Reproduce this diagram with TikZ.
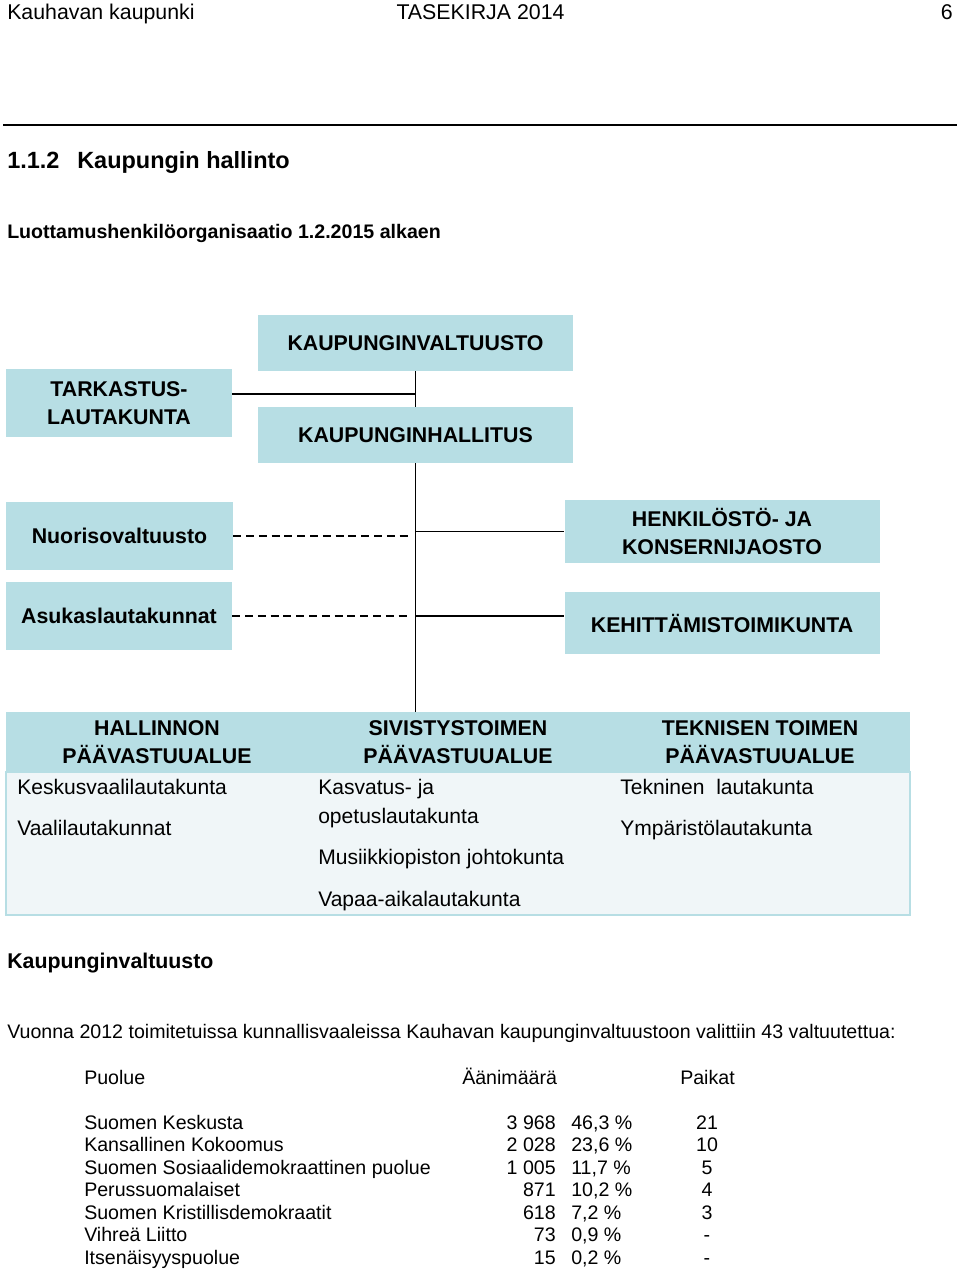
\documentclass[tikz,border=0pt]{standalone}
\usepackage{fontspec}
\setmainfont{Liberation Sans}
\usetikzlibrary{positioning,calc}
\definecolor{boxblue}{RGB}{183,222,228}
\definecolor{cellblue}{RGB}{240,246,248}

\begin{document}
\begin{tikzpicture}[
    x=0.75pt, y=-0.75pt,
    orgbox/.style={fill=boxblue, align=center, inner sep=0pt, font=\fontsize{16}{21.5}\selectfont\bfseries},
    hdr/.style={align=center, inner sep=0pt, font=\fontsize{16}{21.5}\selectfont\bfseries},
    cell/.style={anchor=base west, inner sep=0pt, font=\fontsize{15.8}{19}\selectfont},
    txt/.style={anchor=base west, inner sep=0pt, font=\fontsize{14.7}{17}\selectfont},
    link/.style={line width=1.3pt},
    dashlink/.style={line width=1.3pt, dash pattern=on 6pt off 3.6pt}
]
    \useasboundingbox (0,0) rectangle (960,1269);

    % Page header
    \node[txt, font=\fontsize{16}{19}\selectfont] (kaup) at (7,19.5) {Kauhavan kaupunki};
    \node[txt, anchor=base, font=\fontsize{16}{19}\selectfont] (tase) at (480.5,19.5) {TASEKIRJA 2014};
    \node[txt, anchor=base east, font=\fontsize{16}{19}\selectfont] (sivu) at (953,19.5) {6};
    \draw[line width=0.8pt] (3,125) -- (957,125);
    \node[txt, font=\fontsize{17.6}{21}\selectfont\bfseries] (numero) at (7,168.5) {1.1.2};
    \node[txt, font=\fontsize{17.6}{21}\selectfont\bfseries] (otsikko) at (77,168.5) {Kaupungin hallinto};
    \node[txt, font=\fontsize{14.7}{17}\selectfont\bfseries] (alaots) at (7,239) {Luottamushenkilöorganisaatio 1.2.2015 alkaen};

    % Organisation boxes
    \node[orgbox, minimum width=315*0.75pt, minimum height=56*0.75pt] (kv) at (415.5,343) {KAUPUNGINVALTUUSTO};
    \node[orgbox, minimum width=226*0.75pt, minimum height=68*0.75pt] (tl) at (119,403) {TARKASTUS-\\LAUTAKUNTA};
    \node[orgbox, minimum width=315*0.75pt, minimum height=56*0.75pt] (kh) at (415.5,435) {KAUPUNGINHALLITUS};
    \node[orgbox, minimum width=227*0.75pt, minimum height=68*0.75pt] (nuo) at (119.5,536) {Nuorisovaltuusto};
    \node[orgbox, minimum width=315*0.75pt, minimum height=63*0.75pt] (hk) at (722,531.5) {HENKILÖSTÖ- JA\\KONSERNIJAOSTO};
    \node[orgbox, minimum width=226*0.75pt, minimum height=68*0.75pt] (asu) at (119,616) {Asukaslautakunnat};
    \node[orgbox, minimum width=315*0.75pt, minimum height=62*0.75pt] (keh) at (722,623) {KEHITTÄMISTOIMIKUNTA};

    % Responsibility areas
    \node[fill=cellblue, draw=boxblue, line width=0.8pt, inner sep=0pt, minimum width=904*0.75pt, minimum height=143*0.75pt] (runko) at (458,843.5) {};
    \node[fill=boxblue, inner sep=0pt, minimum width=904*0.75pt, minimum height=60*0.75pt] (alueet) at (458,742) {};
    \node[hdr] (hal) at (157,742) {HALLINNON\\PÄÄVASTUUALUE};
    \node[hdr] (siv) at (458,742) {SIVISTYSTOIMEN\\PÄÄVASTUUALUE};
    \node[hdr] (tek) at (760,742) {TEKNISEN TOIMEN\\PÄÄVASTUUALUE};
    \foreach \x/\y/\t [count=\k] in {17/794.5/Keskusvaalilautakunta, 17/835.5/Vaalilautakunnat,
        318/794.5/Kasvatus- ja, 318/823.5/opetuslautakunta, 318/864.5/Musiikkiopiston johtokunta,
        318/906.5/Vapaa-aikalautakunta, 620/794.5/Tekninen\ \ lautakunta, 620/835.5/Ympäristölautakunta}
        \node[cell] (lk\k) at (\x,\y) {\t};

    % Connectors
    \draw[link] (kv.south) -- (kh.north);
    \draw[link] ([yshift=6.75pt]tl.east) -- ([yshift=6.75pt]tl.east -| kv.south);
    \draw[link] (kh.south) -- (kh.south |- alueet.north);
    \draw[dashlink] (nuo.east) -- ([xshift=-4pt]nuo.east -| kh.south);
    \draw[link] (hk.west -| kh.south) -- (hk.west);
    \draw[dashlink] (asu.east) -- ([xshift=-4pt]asu.east -| kh.south);
    \draw[link] (asu.east -| kh.south) -- (asu.east -| keh.west);

    % Election results
    \node[txt, font=\fontsize{16}{19}\selectfont\bfseries] (kvots) at (7,968.5) {Kaupunginvaltuusto};
    \node[txt] (vuonna) at (7,1038) {Vuonna 2012 toimitetuissa kunnallisvaaleissa Kauhavan kaupunginvaltuustoon valittiin 43 valtuutettua:};
    \node[txt] (puolue) at (84,1084) {Puolue};
    \node[txt] (aanet) at (462,1084) {Äänimäärä};
    \node[txt] (paikat) at (680,1084) {Paikat};
    \foreach \nimi/\luku/\pros/\pk [count=\i from 0] in {
        Suomen Keskusta/3 968/46{,}3/21, Kansallinen Kokoomus/2 028/23{,}6/10,
        Suomen Sosiaalidemokraattinen puolue/1 005/11{,}7/5, Perussuomalaiset/871/10{,}2/4,
        Suomen Kristillisdemokraatit/618/7{,}2/3, Vihreä Liitto/73/0{,}9/-, Itsenäisyyspuolue/15/0{,}2/-} {
        \node[txt] (p\i) at (84,1129+22.5*\i) {\nimi};
        \node[txt, anchor=base east] (v\i) at (556,1129+22.5*\i) {\luku};
        \node[txt] (o\i) at (571,1129+22.5*\i) {\pros\ \%};
        \node[txt, anchor=base] (s\i) at (707,1129+22.5*\i) {\pk};
    }
\end{tikzpicture}
\end{document}
